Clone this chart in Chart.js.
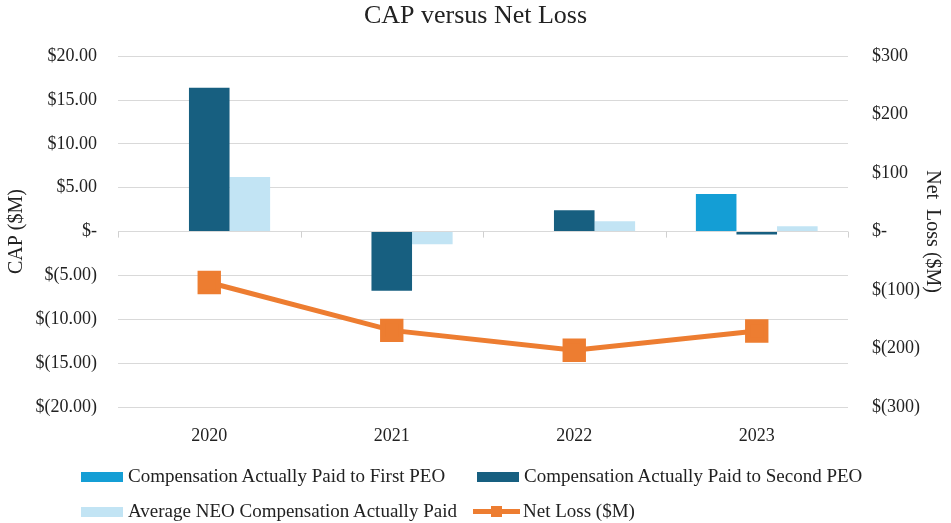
<!DOCTYPE html>
<html>
<head>
<meta charset="utf-8">
<script src="https://cdn.jsdelivr.net/npm/chart.js@4.4.0/dist/chart.umd.min.js"></script>
<style>
  html, body { margin: 0; padding: 0; background: #fff; }
  #marco { position: relative; width: 951px; height: 523px; }
  #grafico { position: absolute; left: 0; top: 0; }
  .item { position: absolute; font-family: "Liberation Serif", serif; font-size: 19px; color: #222; white-space: nowrap; line-height: 20px; }
  .caja { position: absolute; width: 42px; height: 10px; }
  .linea { position: absolute; width: 47px; height: 5px; background: #ED7D31; }
  .cuadro { position: absolute; width: 11px; height: 11px; background: #ED7D31; }
</style>
</head>
<body>
<div id="marco">
  <canvas id="grafico" width="951" height="523"></canvas>
  <div id="leyenda"></div>
</div>
<script>
// datos
const anios = ['2020', '2021', '2022', '2023'];
const capPrimerPEO = [null, null, null, 4.3];
const capSegundoPEO = [16.4, -6.75, 2.43, -0.33];
const capPromedioNEO = [6.24, -1.45, 1.18, 0.6];
const perdidaNeta = [-87, -169, -203, -170];

const etiquetasIzq = ['$(20.00)', '$(15.00)', '$(10.00)', '$(5.00)', '$-', '$5.00', '$10.00', '$15.00', '$20.00'];
const etiquetasDer = ['$(300)', '$(200)', '$(100)', '$-', '$100', '$200', '$300'];

const colores = {
  primero: '#149ED5',
  segundo: '#175F80',
  neo: '#C2E4F4',
  perdida: '#ED7D31'
};

const fuente = 'Liberation Serif';
const texto = '#222';

// marcas cortas bajo la linea del cero, entre categorias
const marcasCero = {
  id: 'marcasCero',
  beforeDatasetsDraw(chart) {
    const x = chart.scales.x;
    const y = chart.scales.y;
    const ctx = chart.ctx;
    const y0 = y.getPixelForValue(0);
    const mitad = (x.getPixelForValue(1) - x.getPixelForValue(0)) / 2;
    ctx.save();
    ctx.strokeStyle = '#D0D0D0';
    ctx.lineWidth = 1;
    ctx.beginPath();
    for (let i = 0; i <= anios.length; i++) {
      const px = Math.round(x.getPixelForValue(i) - mitad) + 0.5;
      ctx.moveTo(px, y0);
      ctx.lineTo(px, y0 + 6);
    }
    ctx.stroke();
    ctx.restore();
  }
};

const chart = new Chart(document.getElementById('grafico'), {
  type: 'bar',
  data: {
    labels: anios,
    datasets: [
      {
        type: 'line',
        label: 'Net Loss ($M)',
        data: perdidaNeta,
        yAxisID: 'y1',
        borderColor: colores.perdida,
        backgroundColor: colores.perdida,
        borderWidth: 5,
        pointStyle: 'rect',
        pointRadius: 13,
        pointHoverRadius: 13,
        tension: 0,
        order: 0
      },
      {
        label: 'Compensation Actually Paid to First PEO',
        data: capPrimerPEO,
        backgroundColor: colores.primero,
        yAxisID: 'y',
        order: 1
      },
      {
        label: 'Compensation Actually Paid to Second PEO',
        data: capSegundoPEO,
        backgroundColor: colores.segundo,
        yAxisID: 'y',
        order: 1
      },
      {
        label: 'Average NEO Compensation Actually Paid',
        data: capPromedioNEO,
        backgroundColor: colores.neo,
        yAxisID: 'y',
        order: 1
      }
    ]
  },
  options: {
    responsive: false,
    animation: false,
    categoryPercentage: 0.667,
    barPercentage: 1,
    layout: { padding: { left: 0, right: 0, top: 0, bottom: 76 } },
    plugins: {
      legend: { display: false },
      tooltip: { enabled: false },
      title: {
        display: true,
        text: 'CAP versus Net Loss',
        color: texto,
        font: { family: fuente, size: 26, weight: 'normal' },
        padding: { top: 1, bottom: 24 }
      }
    },
    scales: {
      x: {
        grid: { display: false, drawTicks: false },
        border: { display: false },
        ticks: { color: texto, font: { family: fuente, size: 18 }, padding: 18 },
        afterFit(s) { s.height = 40; }
      },
      y: {
        position: 'left',
        min: -20,
        max: 20,
        ticks: {
          stepSize: 5,
          color: texto,
          padding: 21,
          font: { family: fuente, size: 18 },
          callback: (v, i) => etiquetasIzq[i]
        },
        grid: { color: '#D9D9D9', lineWidth: 1, drawTicks: false },
        border: { display: false },
        title: {
          display: true,
          text: 'CAP ($M)',
          color: texto,
          font: { family: fuente, size: 20, weight: 'normal' },
          padding: { top: 5, bottom: 0 }
        },
        afterFit(s) { s.width = 118; }
      },
      y1: {
        position: 'right',
        min: -300,
        max: 300,
        ticks: {
          stepSize: 100,
          color: texto,
          padding: 24,
          font: { family: fuente, size: 18 },
          callback: (v, i) => etiquetasDer[i]
        },
        grid: { display: false, drawTicks: false },
        border: { display: false },
        title: {
          display: true,
          text: 'Net  Loss ($M)',
          color: texto,
          font: { family: fuente, size: 20, weight: 'normal' },
          padding: { top: 7, bottom: 0 }
        },
        afterFit(s) { s.width = 103; }
      }
    }
  },
  plugins: [marcasCero]
});

// leyenda en dos columnas, como en el original
const leyenda = document.getElementById('leyenda');
const items = [
  { ds: 1, x: 81, y: 466 },
  { ds: 2, x: 477, y: 466 },
  { ds: 3, x: 81, y: 501 },
  { ds: 0, x: 473, y: 501 }
];
items.forEach(it => {
  const d = chart.data.datasets[it.ds];
  if (d.type === 'line') {
    const l = document.createElement('div');
    l.className = 'linea';
    l.style.left = it.x + 'px';
    l.style.top = (it.y + 8) + 'px';
    leyenda.appendChild(l);
    const c = document.createElement('div');
    c.className = 'cuadro';
    c.style.left = (it.x + 18) + 'px';
    c.style.top = (it.y + 5) + 'px';
    leyenda.appendChild(c);
  } else {
    const c = document.createElement('div');
    c.className = 'caja';
    c.style.left = it.x + 'px';
    c.style.top = (it.y + 6) + 'px';
    c.style.background = d.backgroundColor;
    leyenda.appendChild(c);
  }
  const t = document.createElement('div');
  t.className = 'item';
  t.style.left = (it.x + (d.type === 'line' ? 50 : 47)) + 'px';
  t.style.top = it.y + 'px';
  t.textContent = d.label;
  leyenda.appendChild(t);
});
</script>
</body>
</html>
